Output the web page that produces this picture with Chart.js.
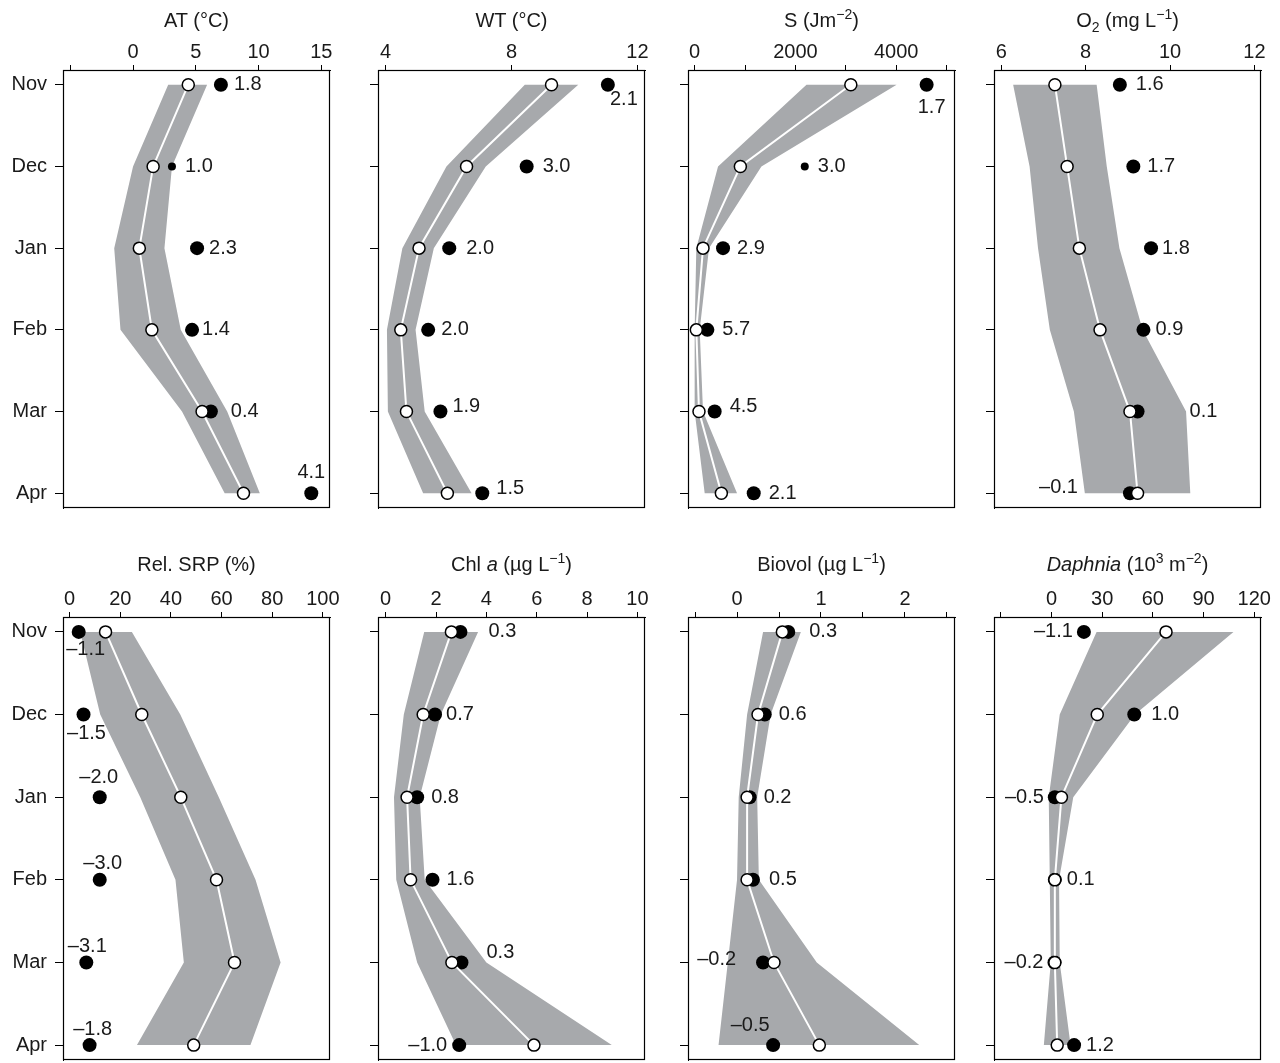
<!DOCTYPE html>
<html>
<head>
<meta charset="utf-8">
<script src="https://cdn.jsdelivr.net/npm/chart.js@4.4.0/dist/chart.umd.min.js"></script>
<style>
  html, body { margin: 0; padding: 0; background: #fff; width: 1280px; height: 1063px; overflow: hidden; }
  .panel { position: absolute; }
  .ttl { position: absolute; width: 267px; text-align: center; white-space: nowrap;
         font: 20px "Liberation Sans", Arial, sans-serif; line-height: 24px; color: #1a1a1a; }
  .ttl sup, .ttl sub { font-size: 14px; line-height: 0; }
</style>
</head>
<body>
<script>
const months = ['Nov', 'Dec', 'Jan', 'Feb', 'Mar', 'Apr'];

// AT (°C)
const atMean = [4.4, 1.6, 0.5, 1.5, 5.5, 8.8];
const atLow = [2.8, 0.0, -1.5, -1.0, 3.9, 7.3];
const atHigh = [5.9, 3.1, 2.5, 3.8, 7.5, 10.1];
const atObs = [7.0, 3.1, 5.1, 4.7, 6.2, 14.2];
const atZ = [1.8, 1.0, 2.3, 1.4, 0.4, 4.1];
const atTicks = [-5, 0, 5, 10, 15];
const atTickLabels = ['', '0', '5', '10', '15'];

// WT (°C)
const wtMean = [9.27, 6.57, 5.06, 4.48, 4.66, 5.96];
const wtLow = [8.42, 5.93, 4.53, 4.04, 4.07, 5.19];
const wtHigh = [10.12, 7.18, 5.53, 4.95, 5.24, 6.73];
const wtObs = [11.06, 8.48, 6.02, 5.35, 5.74, 7.07];
const wtZ = [2.1, 3.0, 2.0, 2.0, 1.9, 1.5];
const wtTicks = [4, 8, 12];
const wtTickLabels = ['4', '8', '12'];

// S (J m-2)
const sMean = [3099, 907, 166, 33, 86, 530];
const sLow = [2219, 464, 33, 0, 0, 199];
const sHigh = [4007, 1325, 285, 100, 166, 841];
const sObs = [4603, 2185, 563, 252, 397, 1172];
const sZ = [1.7, 3.0, 2.9, 5.7, 4.5, 2.1];
const sTicks = [0, 1000, 2000, 3000, 4000, 5000];
const sTickLabels = ['0', '', '2000', '', '4000', ''];

// O2 (mg L-1)
const o2Mean = [7.27, 7.56, 7.85, 8.34, 9.05, 9.23];
const o2Low = [6.28, 6.67, 6.87, 7.15, 7.72, 7.98];
const o2High = [8.26, 8.50, 8.80, 9.35, 10.38, 10.48];
const o2Obs = [8.81, 9.13, 9.55, 9.37, 9.23, 9.05];
const o2Z = [1.6, 1.7, 1.8, 0.9, 0.1, -0.1];
const o2Ticks = [6, 8, 10, 12];
const o2TickLabels = ['6', '8', '10', '12'];

// Rel. SRP (%)
const srpMean = [14.2, 28.5, 43.9, 58.0, 65.1, 49.0];
const srpLow = [4.2, 12.1, 27.9, 41.8, 45.1, 26.6];
const srpHigh = [24.6, 43.7, 58.9, 73.4, 83.3, 71.4];
const srpObs = [3.6, 5.5, 11.9, 11.9, 6.6, 7.9];
const srpZ = [-1.1, -1.5, -2.0, -3.0, -3.1, -1.8];
const srpTicks = [0, 20, 40, 60, 80, 100];
const srpTickLabels = ['0', '20', '40', '60', '80', '100'];

// Chl a (ug L-1)
const chlMean = [2.61, 1.49, 0.85, 0.99, 2.63, 5.89];
const chlLow = [1.53, 0.72, 0.33, 0.42, 1.25, 2.79];
const chlHigh = [3.67, 2.19, 1.35, 1.55, 4.0, 8.98];
const chlObs = [2.97, 1.96, 1.25, 1.86, 3.01, 2.92];
const chlZ = [0.3, 0.7, 0.8, 1.6, 0.3, -1.0];
const chlTicks = [0, 2, 4, 6, 8, 10];
const chlTickLabels = ['0', '2', '4', '6', '8', '10'];

// Biovol (ug L-1)
const bvMean = [0.54, 0.25, 0.12, 0.12, 0.44, 0.98];
const bvLow = [0.31, 0.12, 0.02, 0.0, -0.11, -0.22];
const bvHigh = [0.76, 0.40, 0.24, 0.26, 0.95, 2.17];
const bvObs = [0.61, 0.33, 0.15, 0.19, 0.31, 0.43];
const bvZ = [0.3, 0.6, 0.2, 0.5, -0.2, -0.5];
const bvTicks = [-0.5, 0, 0.5, 1, 1.5, 2, 2.5];
const bvTickLabels = ['', '0', '', '1', '', '2', ''];

// Daphnia (10^3 m-2)
const daMean = [67.8, 27.1, 5.9, 2.0, 2.0, 3.4];
const daLow = [26.7, 4.9, -1.6, -1.0, -0.4, -4.5];
const daHigh = [107.7, 49.4, 12.9, 4.5, 4.9, 11.3];
const daObs = [19.2, 49.0, 2.0, 2.0, 1.8, 13.4];
const daZ = [-1.1, 1.0, -0.5, 0.1, -0.2, 1.2];
const daTicks = [-30, 0, 30, 60, 90, 120];
const daTickLabels = ['', '0', '30', '60', '90', '120'];

Chart.defaults.font.family = '"Liberation Sans", Arial, sans-serif';
Chart.defaults.font.size = 20;
Chart.defaults.color = '#1a1a1a';

const BAND = '#a7a9ac';
const INK = '#1a1a1a';
const PAD_B = 24;

// layout / label placement (pixels), kept apart from the data
const panels = [
  { title: 'AT (°C)', box: [63, 70, 267, 438], range: [-5.58, 15.69], months: true,
    mean: atMean, low: atLow, high: atHigh, obs: atObs, z: atZ, ticks: atTicks, tickLabels: atTickLabels,
    small: [1], lab: [[13, 0], [13, 0], [12, 0], [10, 0], [20, 0], [0, -21, 'c']] },
  { title: 'WT (°C)', box: [378, 70, 267, 438], range: [3.756, 12.24], months: false,
    mean: wtMean, low: wtLow, high: wtHigh, obs: wtObs, z: wtZ, ticks: wtTicks, tickLabels: wtTickLabels,
    small: [], lab: [[16, 15, 'c'], [16, 0], [17, 0], [13, 0], [12, -5], [14, -5]] },
  { title: 'S (Jm<sup>−2</sup>)', box: [688, 70, 267, 438], range: [-132, 5166], months: false,
    mean: sMean, low: sLow, high: sHigh, obs: sObs, z: sZ, ticks: sTicks, tickLabels: sTickLabels,
    small: [1], lab: [[5, 23, 'c'], [13, 0], [14, 0], [15, 0], [15, -5], [15, 0]] },
  { title: 'O<sub>2</sub> (mg L<sup>−1</sup>)', box: [994, 70, 267, 438], range: [5.826, 12.157], months: false,
    mean: o2Mean, low: o2Low, high: o2High, obs: o2Obs, z: o2Z, ticks: o2Ticks, tickLabels: o2TickLabels,
    small: [], lab: [[16, 0], [14, 0], [11, 0], [12, 0], [52, 0], [-52, -6]] },
  { title: 'Rel. SRP (%)', box: [63, 617, 267, 443], range: [-2.6, 102.8], months: true,
    mean: srpMean, low: srpLow, high: srpHigh, obs: srpObs, z: srpZ, ticks: srpTicks, tickLabels: srpTickLabels,
    small: [], lab: [[7, 18, 'c'], [3, 19, 'c'], [-1, -20, 'c'], [3, -16, 'c'], [1, -16, 'c'], [3, -16, 'c']] },
  { title: 'Chl <i>a</i> (µg L<sup>−1</sup>)', box: [378, 617, 267, 443], range: [-0.305, 10.3], months: false,
    mean: chlMean, low: chlLow, high: chlHigh, obs: chlObs, z: chlZ, ticks: chlTicks, tickLabels: chlTickLabels,
    small: [], lab: [[28, 0], [11, 0], [14, 0], [14, 0], [25, -10], [-12, 0]] },
  { title: 'Biovol (µg L<sup>−1</sup>)', box: [688, 617, 267, 443], range: [-0.584, 2.596], months: false,
    mean: bvMean, low: bvLow, high: bvHigh, obs: bvObs, z: bvZ, ticks: bvTicks, tickLabels: bvTickLabels,
    small: [], lab: [[21, 0], [14, 0], [14, 0], [16, 0], [-27, -3], [-23, -20, 'c']] },
  { title: '<i>Daphnia</i> (10<sup>3</sup> m<sup>−2</sup>)', box: [994, 617, 267, 443], range: [-34, 124], months: false,
    mean: daMean, low: daLow, high: daHigh, obs: daObs, z: daZ, ticks: daTicks, tickLabels: daTickLabels,
    small: [], lab: [[-11, 0], [17, 0], [-11, 0], [12, 0], [-11, 0], [12, 0]] }
];

const framePlugin = {
  id: 'frame',
  afterDraw(chart) {
    const {ctx, chartArea: a} = chart;
    ctx.save();
    ctx.strokeStyle = '#000';
    ctx.lineWidth = 1.2;
    ctx.strokeRect(Math.round(a.left) + 0.5, Math.round(a.top) + 0.5,
      Math.round(a.right - a.left) - 1, Math.round(a.bottom - a.top) - 1);
    ctx.restore();
  }
};

function fmt(v) {
  return (v < 0 ? '–' : '') + Math.abs(v).toFixed(1);
}

const scoreLabels = {
  id: 'scoreLabels',
  afterDatasetsDraw(chart, args, opts) {
    const p = opts.panel;
    const meta = chart.getDatasetMeta(1);
    const ctx = chart.ctx;
    ctx.save();
    ctx.font = '20px "Liberation Sans", Arial, sans-serif';
    ctx.fillStyle = INK;
    ctx.textBaseline = 'middle';
    meta.data.forEach((pt, i) => {
      const [dx, dy, al] = p.lab[i];
      ctx.textAlign = al === 'c' ? 'center' : (dx < 0 ? 'right' : 'left');
      ctx.fillText(fmt(p.z[i]), pt.x + dx, pt.y + dy);
    });
    ctx.restore();
  }
};

function pts(arr) {
  return arr.map((v, i) => ({x: v, y: i}));
}

panels.forEach(p => {
  const [bx, by, bw, bh] = p.box;
  const wrap = document.createElement('div');
  wrap.className = 'panel';
  wrap.style.left = (bx - 62) + 'px';
  wrap.style.top = (by - 42) + 'px';
  const cv = document.createElement('canvas');
  cv.width = bw + 62 + 20;
  cv.height = bh + 42 + PAD_B;
  wrap.appendChild(cv);
  document.body.appendChild(wrap);

  const t = document.createElement('div');
  t.className = 'ttl';
  t.style.left = bx + 'px';
  t.style.top = (by < 100 ? 8 : 552) + 'px';
  t.innerHTML = p.title;
  document.body.appendChild(t);

  new Chart(cv, {
    type: 'line',
    data: {
      datasets: [
        {
          label: 'mean',
          data: pts(p.mean),
          borderColor: '#fff',
          borderWidth: 2,
          pointRadius: 6,
          pointBackgroundColor: '#fff',
          pointBorderColor: '#000',
          pointBorderWidth: 1.5,
          fill: false,
          tension: 0
        },
        {
          label: 'observed',
          data: pts(p.obs),
          showLine: false,
          pointRadius: p.obs.map((v, i) => p.small.includes(i) ? 4 : 7),
          pointBackgroundColor: '#000',
          pointBorderWidth: 0,
          fill: false
        },
        {
          label: 'range',
          data: pts(p.high).concat(pts(p.low).reverse()),
          fill: 'shape',
          backgroundColor: BAND,
          borderColor: BAND,
          borderWidth: 0,
          pointRadius: 0,
          tension: 0
        }
      ]
    },
    options: {
      responsive: false,
      animation: false,
      layout: { padding: { left: 0, top: 0, right: 20, bottom: PAD_B } },
      plugins: {
        legend: { display: false },
        tooltip: { enabled: false },
        scoreLabels: { panel: p }
      },
      scales: {
        x: {
          type: 'linear',
          position: 'top',
          min: p.range[0],
          max: p.range[1],
          afterBuildTicks: s => { s.ticks = p.ticks.map(v => ({value: v})); },
          afterFit: s => { s.height = 42; },
          ticks: {
            callback: (v, i) => p.tickLabels[i],
            padding: 1,
            maxRotation: 0,
            autoSkip: false,
            color: INK
          },
          grid: { drawOnChartArea: false, drawTicks: true, tickLength: 5, color: '#000' },
          border: { display: true, color: '#000' }
        },
        y: {
          type: 'linear',
          reverse: true,
          min: -0.18,
          max: 5.18,
          afterBuildTicks: s => { s.ticks = months.map((m, i) => ({value: i})); },
          afterFit: s => { s.width = 62; },
          ticks: {
            callback: (v, i) => p.months ? months[i] : '',
            padding: 8,
            autoSkip: false,
            color: INK
          },
          grid: { drawOnChartArea: false, drawTicks: true, tickLength: 8, color: '#000' },
          border: { display: true, color: '#000' }
        }
      }
    },
    plugins: [framePlugin, scoreLabels]
  });
});
</script>
</body>
</html>
